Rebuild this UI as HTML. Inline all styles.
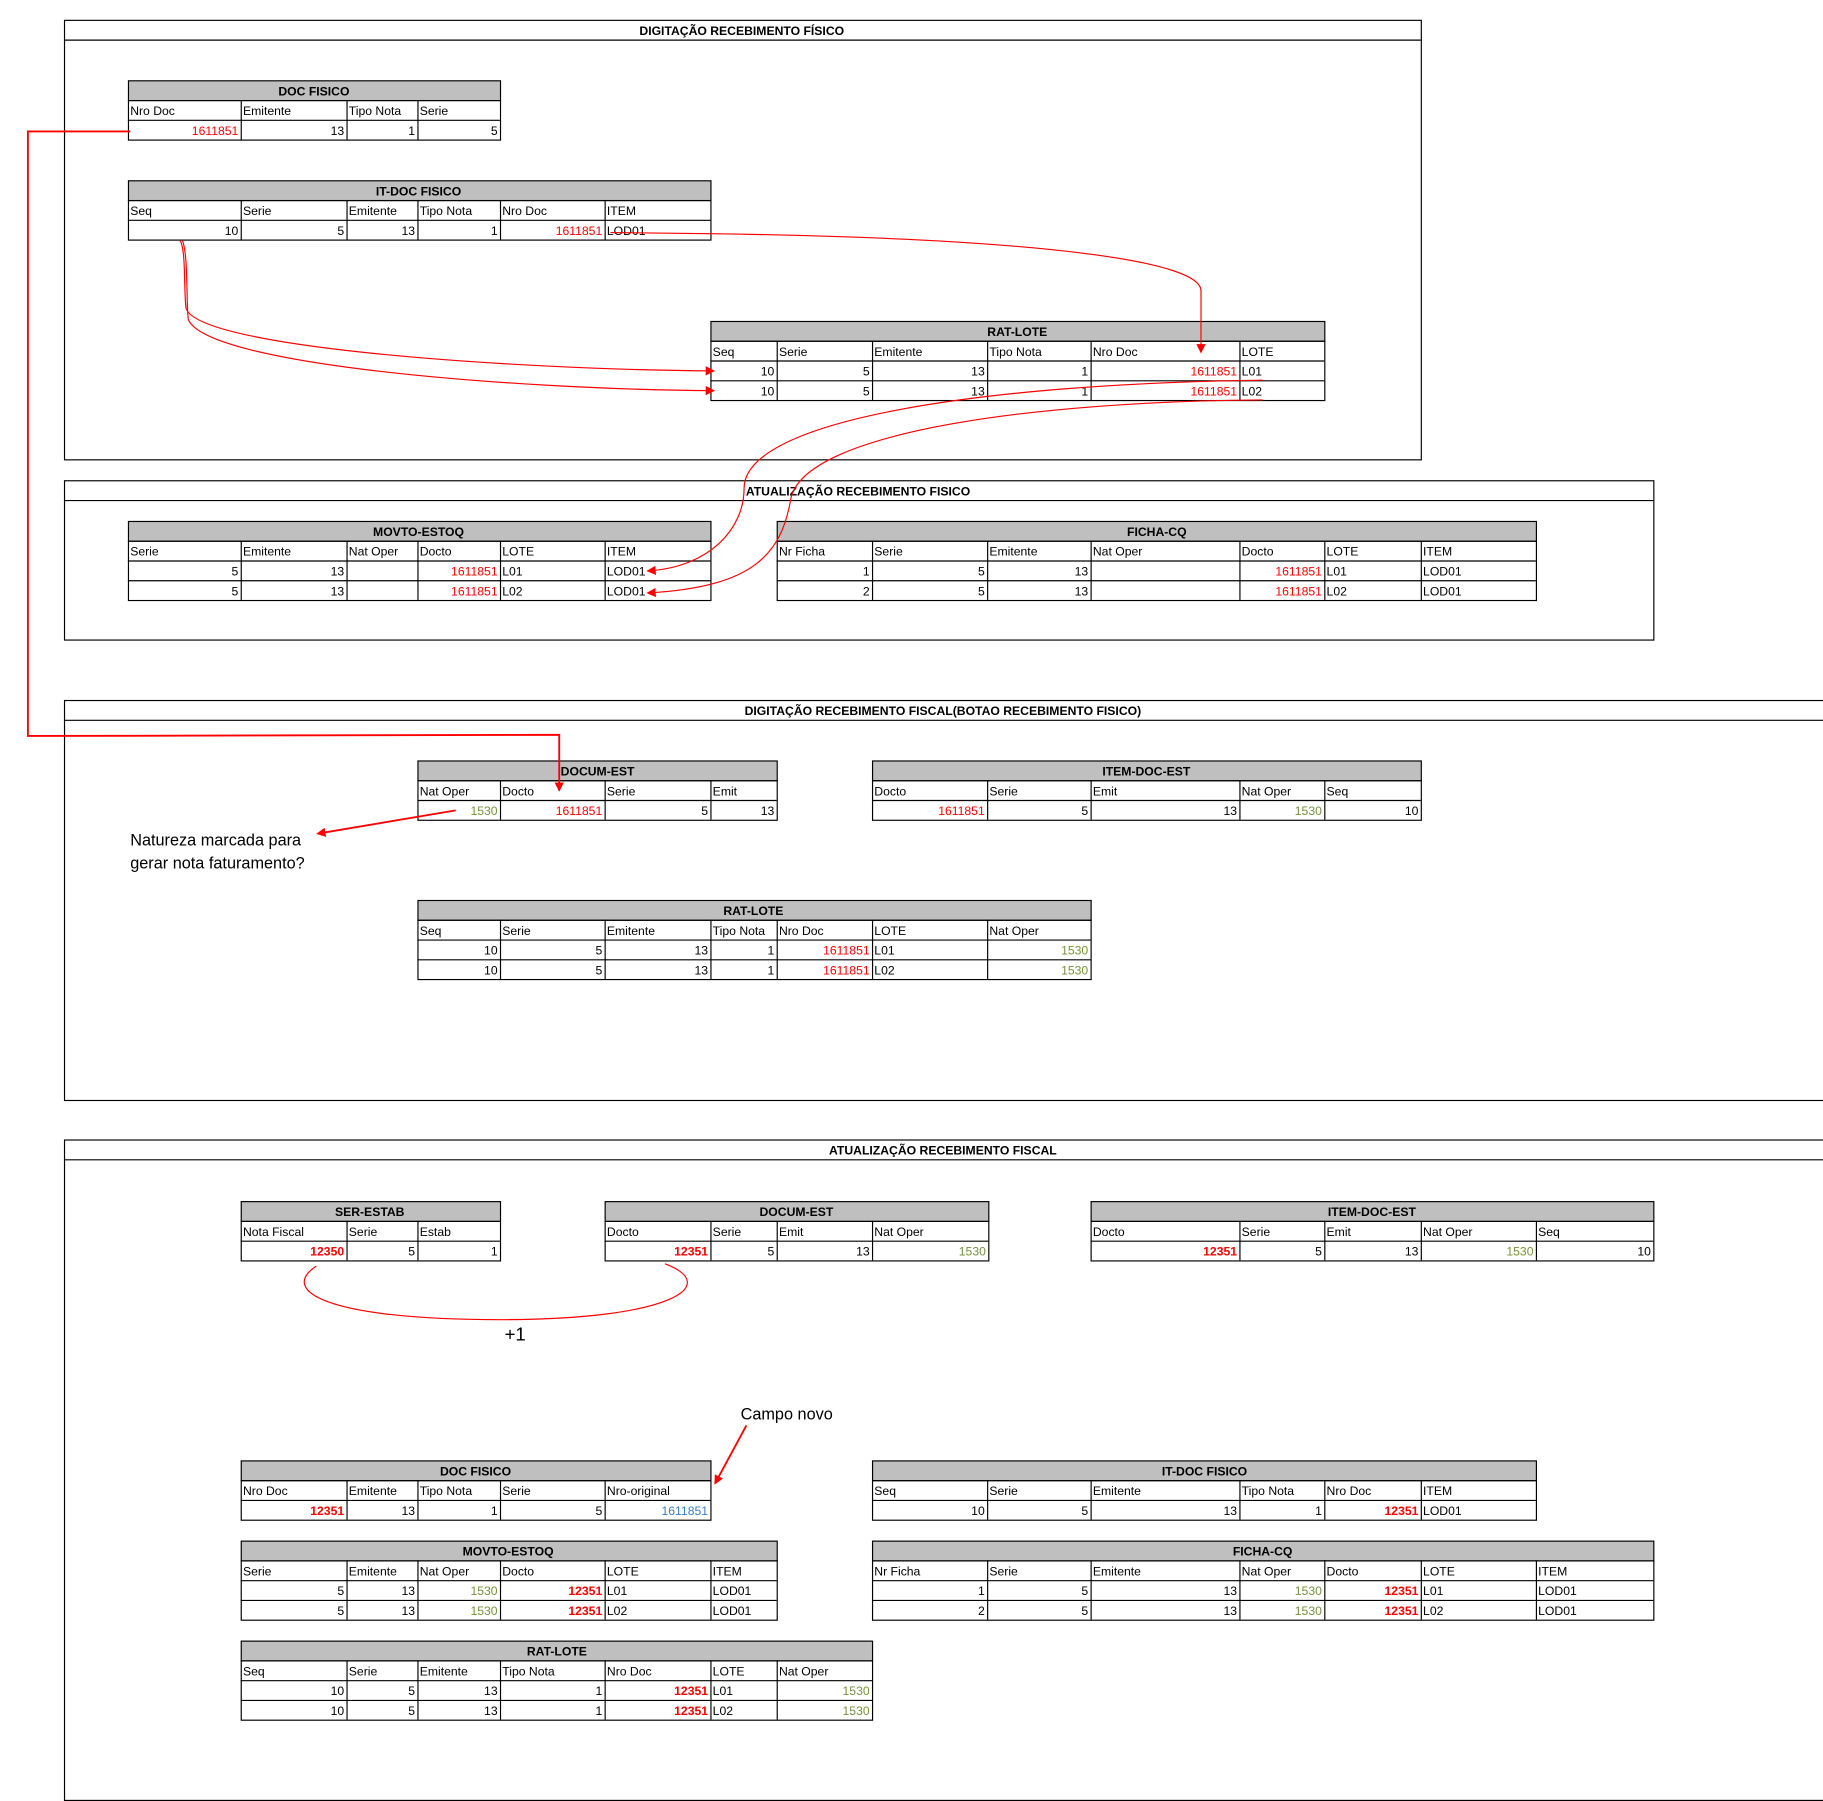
<!DOCTYPE html>
<html><head><meta charset="utf-8"><style>
html,body{margin:0;padding:0;background:#fff}
svg{display:block}
text{font-family:"Liberation Sans",sans-serif;font-size:10.5px;fill:#000}
.t{font-weight:bold;text-anchor:middle}
.e{text-anchor:end}
.rd{fill:#ff0000}.g{fill:#76923c}.bl{fill:#3a7fc0}.b{font-weight:bold}
.gr{fill:#bfbfbf;stroke:#000;stroke-width:1}
.bx{fill:none;stroke:#000;stroke-width:1}
line{stroke:#000;stroke-width:1}
.c{fill:none;stroke:#ff0000;stroke-width:1}
.c2{fill:none;stroke:#ff0000;stroke-width:1.6}
.big{font-size:14px}
</style></head><body>
<svg width="1823" height="1801" viewBox="0 0 1568 1549" preserveAspectRatio="none" xmlns="http://www.w3.org/2000/svg">
<defs><marker id="a" markerWidth="8" markerHeight="8" refX="7" refY="4" orient="auto" markerUnits="userSpaceOnUse"><path d="M0,0 L8,4 L0,8 z" fill="#ff0000"/></marker></defs>

<!-- Frames -->
<rect class="bx" x="55.5" y="17.5" width="1167" height="378"/><line x1="55" y1="34.5" x2="1222" y2="34.5"/>
<text class="t" x="638" y="30">DIGITAÇÃO RECEBIMENTO FÍSICO</text>
<rect class="bx" x="55.5" y="413.5" width="1367" height="137"/><line x1="55" y1="430.5" x2="1422" y2="430.5"/>
<text class="t" x="738" y="426">ATUALIZAÇÃO RECEBIMENTO FISICO</text>
<rect class="bx" x="55.5" y="602.5" width="1520" height="344"/><line x1="55" y1="619.5" x2="1568" y2="619.5"/>
<text class="t" x="811" y="615">DIGITAÇÃO RECEBIMENTO FISCAL(BOTAO RECEBIMENTO FISICO)</text>
<rect class="bx" x="55.5" y="980.5" width="1520" height="568"/><line x1="55" y1="997.5" x2="1568" y2="997.5"/>
<text class="t" x="811" y="993">ATUALIZAÇÃO RECEBIMENTO FISCAL</text>

<!-- T1 DOC FISICO -->
<rect class="gr" x="110.5" y="69.5" width="320" height="17"/><text class="t" x="270" y="82">DOC FISICO</text>
<rect class="bx" x="110.5" y="86.5" width="320" height="34"/><line x1="110" y1="103.5" x2="430" y2="103.5"/>
<line x1="207.5" y1="86" x2="207.5" y2="120"/><line x1="298.5" y1="86" x2="298.5" y2="120"/><line x1="359.5" y1="86" x2="359.5" y2="120"/>
<text x="112" y="99">Nro Doc</text><text x="209" y="99">Emitente</text><text x="300" y="99">Tipo Nota</text><text x="361" y="99">Serie</text>
<text class="e rd" x="205" y="116">1611851</text><text class="e" x="296" y="116">13</text><text class="e" x="357" y="116">1</text><text class="e" x="428" y="116">5</text>

<!-- T2 IT-DOC FISICO -->
<rect class="gr" x="110.5" y="155.5" width="501" height="17"/><text class="t" x="360" y="168">IT-DOC FISICO</text>
<rect class="bx" x="110.5" y="172.5" width="501" height="34"/><line x1="110" y1="189.5" x2="611" y2="189.5"/>
<line x1="207.5" y1="172" x2="207.5" y2="206"/><line x1="298.5" y1="172" x2="298.5" y2="206"/><line x1="359.5" y1="172" x2="359.5" y2="206"/><line x1="430.5" y1="172" x2="430.5" y2="206"/><line x1="520.5" y1="172" x2="520.5" y2="206"/>
<text x="112" y="185">Seq</text><text x="209" y="185">Serie</text><text x="300" y="185">Emitente</text><text x="361" y="185">Tipo Nota</text><text x="432" y="185">Nro Doc</text><text x="522" y="185">ITEM</text>
<text class="e" x="205" y="202">10</text><text class="e" x="296" y="202">5</text><text class="e" x="357" y="202">13</text><text class="e" x="428" y="202">1</text><text class="e rd" x="518" y="202">1611851</text><text x="522" y="202">LOD01</text>

<!-- T3 RAT-LOTE -->
<rect class="gr" x="611.5" y="276.5" width="528" height="17"/><text class="t" x="875" y="289">RAT-LOTE</text>
<rect class="bx" x="611.5" y="293.5" width="528" height="51"/><line x1="611" y1="310.5" x2="1139" y2="310.5"/><line x1="611" y1="327.5" x2="1139" y2="327.5"/>
<line x1="668.5" y1="293" x2="668.5" y2="344"/><line x1="750.5" y1="293" x2="750.5" y2="344"/><line x1="849.5" y1="293" x2="849.5" y2="344"/><line x1="938.5" y1="293" x2="938.5" y2="344"/><line x1="1066.5" y1="293" x2="1066.5" y2="344"/>
<text x="613" y="306">Seq</text><text x="670" y="306">Serie</text><text x="752" y="306">Emitente</text><text x="851" y="306">Tipo Nota</text><text x="940" y="306">Nro Doc</text><text x="1068" y="306">LOTE</text>
<text class="e" x="666" y="323">10</text><text class="e" x="748" y="323">5</text><text class="e" x="847" y="323">13</text><text class="e" x="936" y="323">1</text><text class="e rd" x="1064" y="323">1611851</text><text x="1068" y="323">L01</text>
<text class="e" x="666" y="340">10</text><text class="e" x="748" y="340">5</text><text class="e" x="847" y="340">13</text><text class="e" x="936" y="340">1</text><text class="e rd" x="1064" y="340">1611851</text><text x="1068" y="340">L02</text>

<!-- T4 MOVTO-ESTOQ -->
<rect class="gr" x="110.5" y="448.5" width="501" height="17"/><text class="t" x="360" y="461">MOVTO-ESTOQ</text>
<rect class="bx" x="110.5" y="465.5" width="501" height="51"/><line x1="110" y1="482.5" x2="611" y2="482.5"/><line x1="110" y1="499.5" x2="611" y2="499.5"/>
<line x1="207.5" y1="465" x2="207.5" y2="516"/><line x1="298.5" y1="465" x2="298.5" y2="516"/><line x1="359.5" y1="465" x2="359.5" y2="516"/><line x1="430.5" y1="465" x2="430.5" y2="516"/><line x1="520.5" y1="465" x2="520.5" y2="516"/>
<text x="112" y="478">Serie</text><text x="209" y="478">Emitente</text><text x="300" y="478">Nat Oper</text><text x="361" y="478">Docto</text><text x="432" y="478">LOTE</text><text x="522" y="478">ITEM</text>
<text class="e" x="205" y="495">5</text><text class="e" x="296" y="495">13</text><text class="e rd" x="428" y="495">1611851</text><text x="432" y="495">L01</text><text x="522" y="495">LOD01</text>
<text class="e" x="205" y="512">5</text><text class="e" x="296" y="512">13</text><text class="e rd" x="428" y="512">1611851</text><text x="432" y="512">L02</text><text x="522" y="512">LOD01</text>

<!-- T5 FICHA-CQ -->
<rect class="gr" x="668.5" y="448.5" width="653" height="17"/><text class="t" x="995" y="461">FICHA-CQ</text>
<rect class="bx" x="668.5" y="465.5" width="653" height="51"/><line x1="668" y1="482.5" x2="1321" y2="482.5"/><line x1="668" y1="499.5" x2="1321" y2="499.5"/>
<line x1="750.5" y1="465" x2="750.5" y2="516"/><line x1="849.5" y1="465" x2="849.5" y2="516"/><line x1="938.5" y1="465" x2="938.5" y2="516"/><line x1="1066.5" y1="465" x2="1066.5" y2="516"/><line x1="1139.5" y1="465" x2="1139.5" y2="516"/><line x1="1222.5" y1="465" x2="1222.5" y2="516"/>
<text x="670" y="478">Nr Ficha</text><text x="752" y="478">Serie</text><text x="851" y="478">Emitente</text><text x="940" y="478">Nat Oper</text><text x="1068" y="478">Docto</text><text x="1141" y="478">LOTE</text><text x="1224" y="478">ITEM</text>
<text class="e" x="748" y="495">1</text><text class="e" x="847" y="495">5</text><text class="e" x="936" y="495">13</text><text class="e rd" x="1137" y="495">1611851</text><text x="1141" y="495">L01</text><text x="1224" y="495">LOD01</text>
<text class="e" x="748" y="512">2</text><text class="e" x="847" y="512">5</text><text class="e" x="936" y="512">13</text><text class="e rd" x="1137" y="512">1611851</text><text x="1141" y="512">L02</text><text x="1224" y="512">LOD01</text>

<!-- T6 DOCUM-EST -->
<rect class="gr" x="359.5" y="654.5" width="309" height="17"/><text class="t" x="514" y="667">DOCUM-EST</text>
<rect class="bx" x="359.5" y="671.5" width="309" height="34"/><line x1="359" y1="688.5" x2="668" y2="688.5"/>
<line x1="430.5" y1="671" x2="430.5" y2="705"/><line x1="520.5" y1="671" x2="520.5" y2="705"/><line x1="611.5" y1="671" x2="611.5" y2="705"/>
<text x="361" y="684">Nat Oper</text><text x="432" y="684">Docto</text><text x="522" y="684">Serie</text><text x="613" y="684">Emit</text>
<text class="e g" x="428" y="701">1530</text><text class="e rd" x="518" y="701">1611851</text><text class="e" x="609" y="701">5</text><text class="e" x="666" y="701">13</text>

<!-- T7 ITEM-DOC-EST -->
<rect class="gr" x="750.5" y="654.5" width="472" height="17"/><text class="t" x="986" y="667">ITEM-DOC-EST</text>
<rect class="bx" x="750.5" y="671.5" width="472" height="34"/><line x1="750" y1="688.5" x2="1222" y2="688.5"/>
<line x1="849.5" y1="671" x2="849.5" y2="705"/><line x1="938.5" y1="671" x2="938.5" y2="705"/><line x1="1066.5" y1="671" x2="1066.5" y2="705"/><line x1="1139.5" y1="671" x2="1139.5" y2="705"/>
<text x="752" y="684">Docto</text><text x="851" y="684">Serie</text><text x="940" y="684">Emit</text><text x="1068" y="684">Nat Oper</text><text x="1141" y="684">Seq</text>
<text class="e rd" x="847" y="701">1611851</text><text class="e" x="936" y="701">5</text><text class="e" x="1064" y="701">13</text><text class="e g" x="1137" y="701">1530</text><text class="e" x="1220" y="701">10</text>

<text class="big" x="112" y="727">Natureza marcada para</text>
<text class="big" x="112" y="747">gerar nota faturamento?</text>

<!-- T8 RAT-LOTE 2 -->
<rect class="gr" x="359.5" y="774.5" width="579" height="17"/><text class="t" x="648" y="787">RAT-LOTE</text>
<rect class="bx" x="359.5" y="791.5" width="579" height="51"/><line x1="359" y1="808.5" x2="938" y2="808.5"/><line x1="359" y1="825.5" x2="938" y2="825.5"/>
<line x1="430.5" y1="791" x2="430.5" y2="842"/><line x1="520.5" y1="791" x2="520.5" y2="842"/><line x1="611.5" y1="791" x2="611.5" y2="842"/><line x1="668.5" y1="791" x2="668.5" y2="842"/><line x1="750.5" y1="791" x2="750.5" y2="842"/><line x1="849.5" y1="791" x2="849.5" y2="842"/>
<text x="361" y="804">Seq</text><text x="432" y="804">Serie</text><text x="522" y="804">Emitente</text><text x="613" y="804">Tipo Nota</text><text x="670" y="804">Nro Doc</text><text x="752" y="804">LOTE</text><text x="851" y="804">Nat Oper</text>
<text class="e" x="428" y="821">10</text><text class="e" x="518" y="821">5</text><text class="e" x="609" y="821">13</text><text class="e" x="666" y="821">1</text><text class="e rd" x="748" y="821">1611851</text><text x="752" y="821">L01</text><text class="e g" x="936" y="821">1530</text>
<text class="e" x="428" y="838">10</text><text class="e" x="518" y="838">5</text><text class="e" x="609" y="838">13</text><text class="e" x="666" y="838">1</text><text class="e rd" x="748" y="838">1611851</text><text x="752" y="838">L02</text><text class="e g" x="936" y="838">1530</text>

<!-- T9 SER-ESTAB -->
<rect class="gr" x="207.5" y="1033.5" width="223" height="17"/><text class="t" x="318" y="1046">SER-ESTAB</text>
<rect class="bx" x="207.5" y="1050.5" width="223" height="34"/><line x1="207" y1="1067.5" x2="430" y2="1067.5"/>
<line x1="298.5" y1="1050" x2="298.5" y2="1084"/><line x1="359.5" y1="1050" x2="359.5" y2="1084"/>
<text x="209" y="1063">Nota Fiscal</text><text x="300" y="1063">Serie</text><text x="361" y="1063">Estab</text>
<text class="e rd b" x="296" y="1080">12350</text><text class="e" x="357" y="1080">5</text><text class="e" x="428" y="1080">1</text>

<!-- T10 DOCUM-EST 2 -->
<rect class="gr" x="520.5" y="1033.5" width="330" height="17"/><text class="t" x="685" y="1046">DOCUM-EST</text>
<rect class="bx" x="520.5" y="1050.5" width="330" height="34"/><line x1="520" y1="1067.5" x2="850" y2="1067.5"/>
<line x1="611.5" y1="1050" x2="611.5" y2="1084"/><line x1="668.5" y1="1050" x2="668.5" y2="1084"/><line x1="750.5" y1="1050" x2="750.5" y2="1084"/>
<text x="522" y="1063">Docto</text><text x="613" y="1063">Serie</text><text x="670" y="1063">Emit</text><text x="752" y="1063">Nat Oper</text>
<text class="e rd b" x="609" y="1080">12351</text><text class="e" x="666" y="1080">5</text><text class="e" x="748" y="1080">13</text><text class="e g" x="848" y="1080">1530</text>

<!-- T11 ITEM-DOC-EST 2 -->
<rect class="gr" x="938.5" y="1033.5" width="484" height="17"/><text class="t" x="1180" y="1046">ITEM-DOC-EST</text>
<rect class="bx" x="938.5" y="1050.5" width="484" height="34"/><line x1="938" y1="1067.5" x2="1422" y2="1067.5"/>
<line x1="1066.5" y1="1050" x2="1066.5" y2="1084"/><line x1="1139.5" y1="1050" x2="1139.5" y2="1084"/><line x1="1222.5" y1="1050" x2="1222.5" y2="1084"/><line x1="1321.5" y1="1050" x2="1321.5" y2="1084"/>
<text x="940" y="1063">Docto</text><text x="1068" y="1063">Serie</text><text x="1141" y="1063">Emit</text><text x="1224" y="1063">Nat Oper</text><text x="1323" y="1063">Seq</text>
<text class="e rd b" x="1064" y="1080">12351</text><text class="e" x="1137" y="1080">5</text><text class="e" x="1220" y="1080">13</text><text class="e g" x="1319" y="1080">1530</text><text class="e" x="1420" y="1080">10</text>

<path class="c" d="M272,1089 C240,1110 280,1135 430,1135 C580,1135 620,1105 572,1087"/>
<text x="434" y="1153" style="font-size:16px">+1</text>
<text class="big" x="637" y="1221">Campo novo</text>
<line x1="642" y1="1226" x2="615" y2="1276" style="stroke:#ff0000;stroke-width:1.6" marker-end="url(#a)"/>

<!-- T12 DOC FISICO 2 -->
<rect class="gr" x="207.5" y="1256.5" width="404" height="17"/><text class="t" x="409" y="1269">DOC FISICO</text>
<rect class="bx" x="207.5" y="1273.5" width="404" height="34"/><line x1="207" y1="1290.5" x2="611" y2="1290.5"/>
<line x1="298.5" y1="1273" x2="298.5" y2="1307"/><line x1="359.5" y1="1273" x2="359.5" y2="1307"/><line x1="430.5" y1="1273" x2="430.5" y2="1307"/><line x1="520.5" y1="1273" x2="520.5" y2="1307"/>
<text x="209" y="1286">Nro Doc</text><text x="300" y="1286">Emitente</text><text x="361" y="1286">Tipo Nota</text><text x="432" y="1286">Serie</text><text x="522" y="1286">Nro-original</text>
<text class="e rd b" x="296" y="1303">12351</text><text class="e" x="357" y="1303">13</text><text class="e" x="428" y="1303">1</text><text class="e" x="518" y="1303">5</text><text class="e bl" x="609" y="1303">1611851</text>

<!-- T13 IT-DOC FISICO 2 -->
<rect class="gr" x="750.5" y="1256.5" width="571" height="17"/><text class="t" x="1036" y="1269">IT-DOC FISICO</text>
<rect class="bx" x="750.5" y="1273.5" width="571" height="34"/><line x1="750" y1="1290.5" x2="1321" y2="1290.5"/>
<line x1="849.5" y1="1273" x2="849.5" y2="1307"/><line x1="938.5" y1="1273" x2="938.5" y2="1307"/><line x1="1066.5" y1="1273" x2="1066.5" y2="1307"/><line x1="1139.5" y1="1273" x2="1139.5" y2="1307"/><line x1="1222.5" y1="1273" x2="1222.5" y2="1307"/>
<text x="752" y="1286">Seq</text><text x="851" y="1286">Serie</text><text x="940" y="1286">Emitente</text><text x="1068" y="1286">Tipo Nota</text><text x="1141" y="1286">Nro Doc</text><text x="1224" y="1286">ITEM</text>
<text class="e" x="847" y="1303">10</text><text class="e" x="936" y="1303">5</text><text class="e" x="1064" y="1303">13</text><text class="e" x="1137" y="1303">1</text><text class="e rd b" x="1220" y="1303">12351</text><text x="1224" y="1303">LOD01</text>

<!-- T14 MOVTO-ESTOQ 2 -->
<rect class="gr" x="207.5" y="1325.5" width="461" height="17"/><text class="t" x="437" y="1338">MOVTO-ESTOQ</text>
<rect class="bx" x="207.5" y="1342.5" width="461" height="51"/><line x1="207" y1="1359.5" x2="668" y2="1359.5"/><line x1="207" y1="1376.5" x2="668" y2="1376.5"/>
<line x1="298.5" y1="1342" x2="298.5" y2="1393"/><line x1="359.5" y1="1342" x2="359.5" y2="1393"/><line x1="430.5" y1="1342" x2="430.5" y2="1393"/><line x1="520.5" y1="1342" x2="520.5" y2="1393"/><line x1="611.5" y1="1342" x2="611.5" y2="1393"/>
<text x="209" y="1355">Serie</text><text x="300" y="1355">Emitente</text><text x="361" y="1355">Nat Oper</text><text x="432" y="1355">Docto</text><text x="522" y="1355">LOTE</text><text x="613" y="1355">ITEM</text>
<text class="e" x="296" y="1372">5</text><text class="e" x="357" y="1372">13</text><text class="e g" x="428" y="1372">1530</text><text class="e rd b" x="518" y="1372">12351</text><text x="522" y="1372">L01</text><text x="613" y="1372">LOD01</text>
<text class="e" x="296" y="1389">5</text><text class="e" x="357" y="1389">13</text><text class="e g" x="428" y="1389">1530</text><text class="e rd b" x="518" y="1389">12351</text><text x="522" y="1389">L02</text><text x="613" y="1389">LOD01</text>

<!-- T15 FICHA-CQ 2 -->
<rect class="gr" x="750.5" y="1325.5" width="672" height="17"/><text class="t" x="1086" y="1338">FICHA-CQ</text>
<rect class="bx" x="750.5" y="1342.5" width="672" height="51"/><line x1="750" y1="1359.5" x2="1422" y2="1359.5"/><line x1="750" y1="1376.5" x2="1422" y2="1376.5"/>
<line x1="849.5" y1="1342" x2="849.5" y2="1393"/><line x1="938.5" y1="1342" x2="938.5" y2="1393"/><line x1="1066.5" y1="1342" x2="1066.5" y2="1393"/><line x1="1139.5" y1="1342" x2="1139.5" y2="1393"/><line x1="1222.5" y1="1342" x2="1222.5" y2="1393"/><line x1="1321.5" y1="1342" x2="1321.5" y2="1393"/>
<text x="752" y="1355">Nr Ficha</text><text x="851" y="1355">Serie</text><text x="940" y="1355">Emitente</text><text x="1068" y="1355">Nat Oper</text><text x="1141" y="1355">Docto</text><text x="1224" y="1355">LOTE</text><text x="1323" y="1355">ITEM</text>
<text class="e" x="847" y="1372">1</text><text class="e" x="936" y="1372">5</text><text class="e" x="1064" y="1372">13</text><text class="e g" x="1137" y="1372">1530</text><text class="e rd b" x="1220" y="1372">12351</text><text x="1224" y="1372">L01</text><text x="1323" y="1372">LOD01</text>
<text class="e" x="847" y="1389">2</text><text class="e" x="936" y="1389">5</text><text class="e" x="1064" y="1389">13</text><text class="e g" x="1137" y="1389">1530</text><text class="e rd b" x="1220" y="1389">12351</text><text x="1224" y="1389">L02</text><text x="1323" y="1389">LOD01</text>

<!-- T16 RAT-LOTE 3 -->
<rect class="gr" x="207.5" y="1411.5" width="543" height="17"/><text class="t" x="479" y="1424">RAT-LOTE</text>
<rect class="bx" x="207.5" y="1428.5" width="543" height="51"/><line x1="207" y1="1445.5" x2="750" y2="1445.5"/><line x1="207" y1="1462.5" x2="750" y2="1462.5"/>
<line x1="298.5" y1="1428" x2="298.5" y2="1479"/><line x1="359.5" y1="1428" x2="359.5" y2="1479"/><line x1="430.5" y1="1428" x2="430.5" y2="1479"/><line x1="520.5" y1="1428" x2="520.5" y2="1479"/><line x1="611.5" y1="1428" x2="611.5" y2="1479"/><line x1="668.5" y1="1428" x2="668.5" y2="1479"/>
<text x="209" y="1441">Seq</text><text x="300" y="1441">Serie</text><text x="361" y="1441">Emitente</text><text x="432" y="1441">Tipo Nota</text><text x="522" y="1441">Nro Doc</text><text x="613" y="1441">LOTE</text><text x="670" y="1441">Nat Oper</text>
<text class="e" x="296" y="1458">10</text><text class="e" x="357" y="1458">5</text><text class="e" x="428" y="1458">13</text><text class="e" x="518" y="1458">1</text><text class="e rd b" x="609" y="1458">12351</text><text x="613" y="1458">L01</text><text class="e g" x="748" y="1458">1530</text>
<text class="e" x="296" y="1475">10</text><text class="e" x="357" y="1475">5</text><text class="e" x="428" y="1475">13</text><text class="e" x="518" y="1475">1</text><text class="e rd b" x="609" y="1475">12351</text><text x="613" y="1475">L02</text><text class="e g" x="748" y="1475">1530</text>

<!-- Connectors -->
<path class="c2" d="M112,113 L24,113 L24,633 L481,632 L481,680" marker-end="url(#a)"/>
<path class="c" d="M525,200 L610,201 C900,205 1033,225 1033,250 L1033,303" marker-end="url(#a)"/>
<path class="c" d="M155,207 C160,215 158,250 160,265 C170,300 450,318 614,319" marker-end="url(#a)"/>
<path class="c" d="M157,207 C162,220 160,260 162,275 C180,315 450,335 614,336" marker-end="url(#a)"/>
<path class="c" d="M1086,327 C850,330 640,360 640,420 C640,455 610,488 557,491" marker-end="url(#a)"/>
<path class="c" d="M1086,344 C900,345 690,370 680,430 C672,475 650,505 557,510" marker-end="url(#a)"/>
<path class="c2" d="M392,697 L273,717" marker-end="url(#a)"/>
</svg>
</body></html>
